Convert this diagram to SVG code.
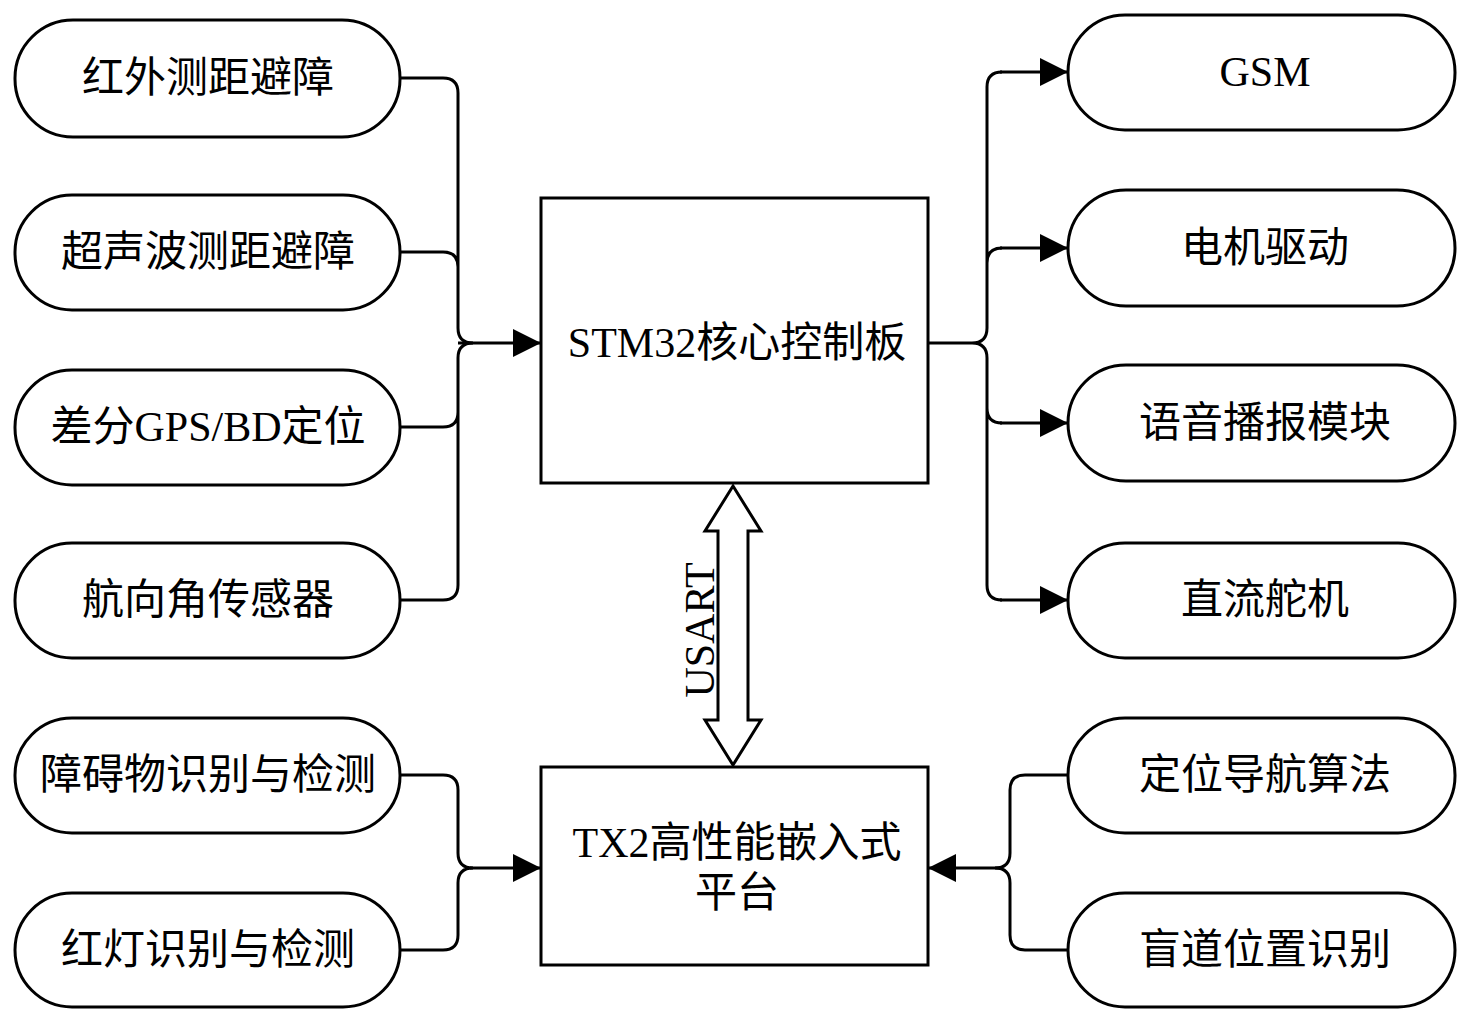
<svg xmlns="http://www.w3.org/2000/svg" width="1471" height="1023" viewBox="0 0 1471 1023">
<defs>
<marker id="ah" viewBox="0 0 10 10" refX="10" refY="5" markerWidth="28" markerHeight="28" markerUnits="userSpaceOnUse" orient="auto"><path d="M0,0 L10,5 L0,10 z" fill="#000"/></marker>
</defs>
<style>
.pill{fill:#fff;stroke:#000;stroke-width:3}
.box{fill:#fff;stroke:#000;stroke-width:3}
.t{font-family:"Liberation Serif","Noto Sans CJK SC",serif;font-size:42px;text-anchor:middle;dominant-baseline:central;fill:#000}
.c{fill:none;stroke:#000;stroke-width:3}
</style>
<rect width="1471" height="1023" fill="#fff"/>
<g id="n1"><rect class="pill" x="15" y="20" width="385" height="117" rx="58"/><text class="t" x="208" y="78">红外测距避障</text></g>
<g id="n2"><rect class="pill" x="15" y="195" width="385" height="115" rx="57"/><text class="t" x="208" y="252">超声波测距避障</text></g>
<g id="n3"><rect class="pill" x="15" y="370" width="385" height="115" rx="57"/><text class="t" x="208" y="427">差分GPS/BD定位</text></g>
<g id="n4"><rect class="pill" x="15" y="543" width="385" height="115" rx="57"/><text class="t" x="208" y="600">航向角传感器</text></g>
<g id="n5"><rect class="pill" x="15" y="718" width="385" height="115" rx="57"/><text class="t" x="208" y="775">障碍物识别与检测</text></g>
<g id="n6"><rect class="pill" x="15" y="893" width="385" height="114" rx="57"/><text class="t" x="208" y="950">红灯识别与检测</text></g>
<g id="r1"><rect class="pill" x="1068" y="15" width="387" height="115" rx="57"/><text class="t" x="1265" y="72">GSM</text></g>
<g id="r2"><rect class="pill" x="1068" y="190" width="387" height="116" rx="58"/><text class="t" x="1265" y="248">电机驱动</text></g>
<g id="r3"><rect class="pill" x="1068" y="365" width="387" height="116" rx="58"/><text class="t" x="1265" y="423">语音播报模块</text></g>
<g id="r4"><rect class="pill" x="1068" y="543" width="387" height="115" rx="57"/><text class="t" x="1265" y="600">直流舵机</text></g>
<g id="r5"><rect class="pill" x="1068" y="718" width="387" height="115" rx="57"/><text class="t" x="1265" y="775">定位导航算法</text></g>
<g id="r6"><rect class="pill" x="1068" y="893" width="387" height="114" rx="57"/><text class="t" x="1265" y="950">盲道位置识别</text></g>
<g id="stm"><rect class="box" x="541" y="198" width="387" height="285"/><text class="t" x="737" y="343">STM32核心控制板</text></g>
<g id="tx2"><rect class="box" x="541" y="767" width="387" height="198"/><text class="t" x="737" y="843">TX2高性能嵌入式</text><text class="t" x="737" y="893">平台</text></g>
<g id="connectors">
<path class="c" d="M400,78 H443 Q458,78 458,93 V328 Q458,343 473,343 M400,252 H443 Q458,252 458,267 V328 M400,427 H443 Q458,427 458,412 V358 Q458,343 473,343 M400,600 H443 Q458,600 458,585 V358"/>
<path class="c" d="M458,343 H541" marker-end="url(#ah)"/>
<path class="c" d="M928,343 H972 Q987,343 987,328 V87 Q987,72 1002,72 M987,328 V263 Q987,248 1002,248 M928,343 H972 Q987,343 987,358 V585 Q987,600 1002,600 M987,358 V408 Q987,423 1002,423"/>
<path class="c" d="M1000,72 H1068" marker-end="url(#ah)"/>
<path class="c" d="M1000,248 H1068" marker-end="url(#ah)"/>
<path class="c" d="M1000,423 H1068" marker-end="url(#ah)"/>
<path class="c" d="M1000,600 H1068" marker-end="url(#ah)"/>
<path class="c" d="M400,775 H443 Q458,775 458,790 V853 Q458,868 473,868 M400,950 H443 Q458,950 458,935 V883 Q458,868 473,868"/>
<path class="c" d="M470,868 H541" marker-end="url(#ah)"/>
<path class="c" d="M1068,775 H1025 Q1010,775 1010,790 V853 Q1010,868 995,868 M1068,950 H1025 Q1010,950 1010,935 V883 Q1010,868 995,868"/>
<path class="c" d="M1000,868 H928" marker-end="url(#ah)"/>
<path fill="#fff" stroke="#000" stroke-width="3" d="M733,486 L761,531 L748,531 L748,720 L761,720 L733,765 L705,720 L718,720 L718,531 L705,531 Z"/>
<text class="t" x="0" y="0" transform="translate(700,630) rotate(-90)">USART</text>
</g>
</svg>
